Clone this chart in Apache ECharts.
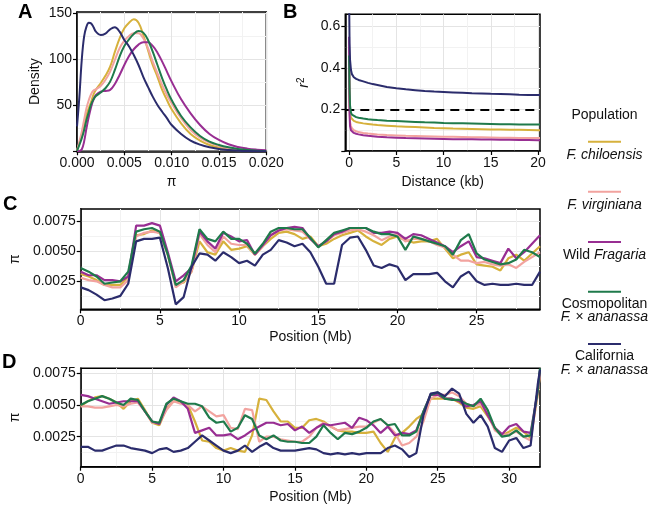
<!DOCTYPE html>
<html><head><meta charset="utf-8">
<script src="https://cdn.jsdelivr.net/npm/echarts@6/dist/echarts.min.js"></script>
<style>html,body{margin:0;padding:0;background:#fff}#c{width:649px;height:506px}</style>
</head><body><div id="c"></div>
<script>
// ---------- data ----------
const populations = ['F. chiloensis','F. virginiana','Wild Fragaria','Cosmopolitan F. × ananassa','California F. × ananassa'];
const colors = ['#D6B13C','#F2A39F','#982E92','#1F7A4B','#2B2C6C'];

// Panel A: density of pi
const aX = [0,0.00025,0.0005,0.00075,0.001,0.00125,0.0015,0.00175,0.002,0.0025,0.003,0.0035,0.004,0.0045,0.005,0.0055,0.006,0.0065,0.007,0.0075,0.008,0.0085,0.009,0.0095,0.01,0.011,0.012,0.013,0.014,0.015,0.016,0.017,0.018,0.019,0.02];
const aChil = [1,8.7,17.8,28.6,39.5,47,54,62,67,74,82,92,108,122.8,133.7,139.8,143.5,139.8,126.4,110,93.8,81,66.7,55.8,45.6,30.4,18.8,11.6,6.9,4,2.2,1.1,0.5,0.2,0.1];
const aVirg = [0.5,10.5,21,34,46.7,55.8,62.3,66,67.4,71,77.5,86.6,99.3,112,120.3,125.4,128.3,128.3,122.8,112,97.5,84.8,72,61.2,52.2,35.9,23.2,14.9,9.4,5.8,3.3,1.8,0.9,0.4,0.2];
const aWild = [0,0.5,2,10.5,25,37.7,48.5,56.5,61.2,64.9,65.6,66.7,73.2,83,93.8,103.6,110.9,116,118.5,118.5,114.5,107.2,97.5,86.6,75.7,56.5,41.3,28.6,18.8,12.3,7.6,4.7,2.9,1.8,1.1];
const aCosm = [0.5,7,14,23,34,43,51.4,56.5,60,63.8,68.5,75.7,88.4,103,114.5,121.7,127.5,130.8,129,121,108.3,93.8,79.3,66.7,55.8,38.4,26,16.7,10.5,6.9,4.3,2.5,1.3,0.6,0.3];
const aCali = [27,59,99,124.6,135.5,139.8,139,134.8,130,126.4,128,132.6,134.8,130,121,114,104.7,93.8,81,70,59.4,50.4,43,36,28.6,18.8,11.6,7.2,4.3,2.5,1.4,0.7,0.3,0.1,0.05];

// Panel B: LD decay (r^2 vs distance kb)
const bX = [0,0.05,0.1,0.2,0.3,0.5,0.75,1,1.5,2,2.5,3,4,5,6,7,8,9,10,11,12,13,14,15,16,17,18,19,20,20.2];
const bChil = [0.4,0.24,0.18,0.16,0.152,0.145,0.14,0.137,0.133,0.13,0.127,0.125,0.122,0.119,0.117,0.115,0.113,0.111,0.11,0.108,0.107,0.106,0.105,0.104,0.103,0.102,0.102,0.101,0.1,0.1];
const bVirg = [0.5,0.2,0.14,0.12,0.11,0.1,0.095,0.091,0.087,0.084,0.082,0.08,0.077,0.075,0.073,0.072,0.071,0.07,0.069,0.068,0.067,0.066,0.066,0.065,0.064,0.064,0.063,0.063,0.062,0.062];
const bWild = [0.55,0.18,0.12,0.1,0.093,0.087,0.083,0.08,0.076,0.073,0.071,0.069,0.066,0.064,0.062,0.061,0.06,0.059,0.058,0.057,0.056,0.056,0.055,0.055,0.054,0.054,0.053,0.053,0.052,0.052];
const bCosm = [0.46,0.3,0.22,0.185,0.175,0.168,0.163,0.16,0.156,0.153,0.151,0.149,0.146,0.144,0.142,0.14,0.138,0.137,0.135,0.134,0.133,0.132,0.131,0.13,0.129,0.129,0.128,0.127,0.127,0.127];
const bCali = [0.75,0.52,0.44,0.39,0.37,0.355,0.347,0.342,0.335,0.328,0.322,0.318,0.308,0.302,0.297,0.293,0.289,0.286,0.284,0.282,0.28,0.278,0.277,0.275,0.274,0.273,0.271,0.27,0.269,0.269];
const ldThreshold = 0.2;

// Panel C: pi along chromosome (Mb), step 0.5
const cX = Array.from({length:59},(_,i)=>i*0.5);
const cChil = [0.0031,0.0029,0.0026,0.0022,0.0022,0.0022,0.0029,0.0063,0.0064,0.0067,0.0065,0.0047,0.0022,0.0024,0.0033,0.0058,0.0049,0.0047,0.0058,0.0051,0.0052,0.0054,0.0047,0.0054,0.006,0.0065,0.0066,0.0064,0.006,0.0062,0.0054,0.0056,0.006,0.0063,0.0065,0.0067,0.0062,0.0058,0.0055,0.006,0.0062,0.0059,0.0057,0.0058,0.0058,0.006,0.0052,0.0044,0.0047,0.0049,0.0039,0.0038,0.0037,0.0034,0.0044,0.0047,0.0042,0.0048,0.0054];
const cVirg = [0.0028,0.0026,0.0025,0.0022,0.002,0.002,0.0026,0.0062,0.0065,0.0066,0.0065,0.0047,0.002,0.0025,0.0033,0.0064,0.0055,0.0049,0.0062,0.0056,0.0055,0.0055,0.0047,0.0054,0.0063,0.0067,0.0068,0.0067,0.0066,0.006,0.0054,0.0058,0.0063,0.0065,0.0067,0.0068,0.0066,0.0063,0.0059,0.0062,0.0064,0.0058,0.006,0.006,0.0058,0.0055,0.0053,0.0047,0.0042,0.0042,0.004,0.0041,0.0039,0.0038,0.0039,0.0036,0.0041,0.0045,0.0049];
const cWild = [0.0033,0.003,0.003,0.0026,0.0026,0.0025,0.0029,0.0071,0.0071,0.0073,0.0071,0.0049,0.0025,0.003,0.0036,0.0066,0.0058,0.0052,0.0065,0.0062,0.0058,0.0059,0.0047,0.0055,0.0063,0.0067,0.0069,0.007,0.0069,0.006,0.0054,0.0058,0.0064,0.0066,0.0069,0.0069,0.0069,0.0065,0.0065,0.0066,0.0065,0.006,0.0064,0.0063,0.006,0.0057,0.0054,0.0049,0.0054,0.0058,0.0045,0.0044,0.0042,0.004,0.0052,0.0044,0.0049,0.0056,0.0063];
const cCosm = [0.0036,0.0033,0.0029,0.0023,0.0024,0.0025,0.0033,0.0066,0.0068,0.0069,0.0066,0.0047,0.0022,0.0026,0.0038,0.0068,0.006,0.0058,0.0066,0.006,0.006,0.0056,0.0048,0.0056,0.0066,0.0069,0.0069,0.0068,0.0068,0.0061,0.0053,0.0059,0.0065,0.0067,0.0069,0.0069,0.0069,0.0066,0.0064,0.0064,0.0062,0.0051,0.0062,0.006,0.0058,0.0056,0.0054,0.0047,0.0059,0.0064,0.0048,0.0043,0.0041,0.0039,0.004,0.0043,0.0051,0.0049,0.0045];
const cCali = [0.002,0.00177,0.0014,0.00094,0.00108,0.0013,0.0023,0.0058,0.006,0.006,0.0061,0.0036,0.0006,0.0012,0.0037,0.0048,0.0047,0.0042,0.0049,0.0045,0.004,0.0042,0.0038,0.0047,0.0051,0.0059,0.0057,0.0054,0.0056,0.0049,0.0037,0.0023,0.0023,0.0055,0.0061,0.0062,0.0051,0.0038,0.0036,0.0039,0.0037,0.0026,0.0031,0.0031,0.0031,0.0032,0.0025,0.002,0.0029,0.0033,0.0025,0.0022,0.0023,0.0022,0.0022,0.0023,0.0022,0.0022,0.0033];

// Panel D: pi along chromosome (Mb), step 0.5 + chromosome end
const dX = Array.from({length:65},(_,i)=>i*0.5).concat([32.16]);
const dChil = [0.0049,0.0053,0.0056,0.0057,0.0055,0.0052,0.0047,0.0053,0.0055,0.0046,0.0036,0.0034,0.0047,0.0053,0.0052,0.005,0.0037,0.0022,0.0021,0.0016,0.0014,0.0016,0.0014,0.0013,0.0026,0.0055,0.0054,0.0045,0.0037,0.0037,0.0032,0.0032,0.0038,0.0039,0.0037,0.0033,0.003,0.0029,0.0029,0.0028,0.0028,0.0029,0.002,0.0013,0.0024,0.0028,0.0033,0.0039,0.0043,0.0055,0.0055,0.0055,0.0055,0.0052,0.0048,0.0047,0.0049,0.0041,0.0032,0.0026,0.0029,0.0032,0.0029,0.0024,0.0058,0.0075];
const dVirg = [0.0049,0.0049,0.0048,0.0048,0.0049,0.005,0.0049,0.0051,0.0052,0.0045,0.0036,0.0036,0.0046,0.0053,0.0051,0.005,0.0045,0.0049,0.0045,0.0041,0.0042,0.0032,0.0031,0.0047,0.0046,0.0021,0.0025,0.0025,0.0023,0.0022,0.0021,0.0021,0.0025,0.0032,0.0036,0.0033,0.003,0.0031,0.0032,0.0033,0.0033,0.0036,0.0039,0.0034,0.0028,0.0018,0.002,0.0025,0.0037,0.0055,0.0058,0.0058,0.006,0.0057,0.0051,0.0049,0.0051,0.0043,0.003,0.0026,0.0027,0.0029,0.0025,0.0022,0.0059,0.0075];
const dWild = [0.0058,0.0057,0.0055,0.0053,0.0051,0.0052,0.0053,0.0053,0.0053,0.0045,0.0037,0.0035,0.005,0.0056,0.0053,0.0047,0.0028,0.003,0.0032,0.0026,0.0026,0.0027,0.0023,0.0026,0.003,0.0033,0.0036,0.0036,0.0034,0.0035,0.003,0.0033,0.0028,0.0032,0.0035,0.0034,0.0035,0.0036,0.0032,0.004,0.0038,0.0034,0.0028,0.0033,0.0026,0.0028,0.0027,0.003,0.0045,0.0058,0.0058,0.0055,0.0055,0.0053,0.0049,0.005,0.0053,0.0042,0.0032,0.0027,0.0033,0.0035,0.0029,0.0028,0.0061,0.0077];
const dCosm = [0.005,0.0053,0.0055,0.0057,0.0055,0.0052,0.005,0.0055,0.0054,0.0045,0.0037,0.0036,0.0051,0.0055,0.0053,0.0051,0.0051,0.0049,0.004,0.0036,0.0037,0.0029,0.0032,0.0042,0.0039,0.0026,0.0023,0.0026,0.0022,0.0021,0.0021,0.002,0.002,0.0025,0.0034,0.0028,0.0023,0.0028,0.0027,0.0029,0.0032,0.0037,0.0039,0.0034,0.0035,0.0026,0.0026,0.0029,0.0045,0.0058,0.006,0.0055,0.0054,0.0054,0.0051,0.0049,0.0055,0.0046,0.0032,0.0025,0.0026,0.003,0.0025,0.0026,0.0061,0.0079];
const dCali = [0.0017,0.0017,0.0014,0.0014,0.0016,0.0018,0.0018,0.0016,0.0015,0.0014,0.0012,0.0015,0.0016,0.0013,0.0014,0.0016,0.0021,0.0026,0.0022,0.0018,0.0014,0.0012,0.0014,0.0018,0.0013,0.0017,0.002,0.0016,0.0014,0.0014,0.0014,0.0015,0.0016,0.0015,0.0012,0.0011,0.0012,0.0011,0.0012,0.0011,0.0012,0.0012,0.0012,0.0016,0.0018,0.0015,0.0009,0.0012,0.0042,0.0059,0.006,0.0057,0.0063,0.0059,0.0043,0.0036,0.0042,0.0033,0.0016,0.0013,0.0022,0.0024,0.0016,0.0018,0.0066,0.0078];

// tick labels / gridlines
const aXTicks = [0,0.005,0.01,0.015,0.02], aXMinor = [0.0025,0.0075,0.0125,0.0175];
const aYTicks = [50,100,150], aYMinor = [25,75,125];
const bXTicks = [0,5,10,15,20], bXMinor = [2.5,7.5,12.5,17.5];
const bYTicks = [0.2,0.4,0.6], bYMinor = [0.1,0.3,0.5];
const cXTicks = [0,5,10,15,20,25], cXMinor = [2.5,7.5,12.5,17.5,22.5,27.5];
const dXTicks = [0,5,10,15,20,25,30], dXMinor = [2.5,7.5,12.5,17.5,22.5,27.5];
const piTicks = [0.0025,0.005,0.0075], piMinor = [0.00125,0.00375,0.00625];

// ---------- layout ----------
const FONT = 'Liberation Sans, Arial, Helvetica, sans-serif';
const TXT = '#111';
const panels = [
  {grid:{left:77,top:12,width:189.3,height:139.3}, x:[0,0.02], y:[0,151.4], xt:aXTicks, xm:aXMinor, yt:aYTicks, ym:aYMinor,
   xf:v=>v.toFixed(3), yf:v=>String(v), xname:'π', yname:'Density', xgap:24, ygap:35},
  {grid:{left:345.3,top:14.3,width:194.7,height:136.7}, x:[-0.4,20.2], y:[0,0.658], xt:bXTicks, xm:bXMinor, yt:bYTicks, ym:bYMinor,
   xf:v=>String(v), yf:v=>v.toFixed(1), xname:'Distance (kb)', yname:'{i|r}{s|2}', xgap:24, ygap:33},
  {grid:{left:72.5,top:209,width:467.5,height:100.3}, x:[0,29], y:[0.00019,0.00847], xt:cXTicks, xm:cXMinor, yt:piTicks, ym:piMinor,
   xf:v=>String(v), yf:v=>v.toFixed(4), xname:'Position (Mb)', yname:'π', xgap:21, ygap:51},
  {grid:{left:72.2,top:368.3,width:467.8,height:98.4}, x:[0,32.16], y:[0.00013,0.0079], xt:dXTicks, xm:dXMinor, yt:piTicks, ym:piMinor,
   xf:v=>String(v), yf:v=>v.toFixed(4), xname:'Position (Mb)', yname:'π', xgap:23, ygap:51}
];
const seriesData = [
  {x:aX, ys:[aChil,aVirg,aWild,aCosm,aCali], w:2, smooth:0.4},
  {x:bX, ys:[bChil,bVirg,bWild,bCosm,bCali], w:2, smooth:false},
  {x:cX, ys:[cChil,cVirg,cWild,cCosm,cCali], w:2.2, smooth:false},
  {x:dX, ys:[dChil,dVirg,dWild,dCosm,dCali], w:2.2, smooth:false}
];

const grids=[], xAxes=[], yAxes=[], series=[];
panels.forEach((p,g)=>{
  grids.push(Object.assign({show:true, borderColor:'#000', borderWidth:1.5, backgroundColor:'#fff', containLabel:false}, p.grid));
  const labelStyle = {fontSize:14, color:TXT, fontFamily:FONT, margin:5};
  const nameStyle = {fontSize:14, color:TXT, fontFamily:FONT,
    rich:{i:{fontStyle:'italic',fontSize:14,fontFamily:FONT,color:TXT}, s:{fontSize:10,fontFamily:FONT,color:TXT,verticalAlign:'top',padding:[0,0,6,0]}}};
  xAxes.push({type:'value', gridIndex:g, min:p.x[0], max:p.x[1], position:'bottom',
    name:p.xname, nameLocation:'middle', nameGap:p.xgap, nameTextStyle:nameStyle,
    axisLine:{show:true, onZero:false, lineStyle:{color:'#000', width:1.5}},
    axisTick:{show:true, length:4, customValues:p.xt, lineStyle:{color:'#000', width:1.2}},
    axisLabel:Object.assign({customValues:p.xt, formatter:p.xf}, labelStyle),
    splitLine:{show:true, lineStyle:{color:'#e4e4e4', width:1}}});
  xAxes.push({type:'value', gridIndex:g, min:p.x[0], max:p.x[1], position:'bottom',
    axisLine:{show:false}, axisTick:{show:false, customValues:p.xm}, axisLabel:{show:false, customValues:p.xm},
    splitLine:{show:true, lineStyle:{color:'#f2f2f2', width:1}}});
  const yTickVals = (g<2) ? [p.y[0]].concat(p.yt) : p.yt;
  yAxes.push({type:'value', gridIndex:g, min:p.y[0], max:p.y[1], position:'left',
    name:p.yname, nameLocation:'middle', nameGap:p.ygap, nameRotate:90, nameTextStyle:nameStyle,
    axisLine:{show:true, onZero:false, lineStyle:{color:'#000', width:1.5}},
    axisTick:{show:true, length:4, customValues:yTickVals, lineStyle:{color:'#000', width:1.2}},
    axisLabel:Object.assign({customValues:p.yt, formatter:p.yf}, labelStyle),
    splitLine:{show:true, lineStyle:{color:'#e4e4e4', width:1}}});
  yAxes.push({type:'value', gridIndex:g, min:p.y[0], max:p.y[1], position:'left',
    axisLine:{show:false}, axisTick:{show:false, customValues:p.ym}, axisLabel:{show:false, customValues:p.ym},
    splitLine:{show:true, lineStyle:{color:'#f2f2f2', width:1}}});
  const sd = seriesData[g];
  sd.ys.forEach((ys,ci)=>{
    const s = {type:'line', name:populations[ci], xAxisIndex:g*2, yAxisIndex:g*2,
      data: sd.x.map((x,i)=>[x, ys[i]]), showSymbol:false, symbol:'none', smooth:sd.smooth,
      lineStyle:{color:colors[ci], width:sd.w}, itemStyle:{color:colors[ci]}, z:3+ci, silent:true, clip:true};
    if (g===1 && ci===4) {
      s.markLine = {silent:true, symbol:['none','none'], label:{show:false},
        lineStyle:{color:'#000', type:[9,6], width:2}, data:[{yAxis:ldThreshold}]};
    }
    series.push(s);
  });
});

// ---------- legend & panel letters (text graphics) ----------
const legendRich = {n:{fontSize:14,fontFamily:FONT,color:TXT,lineHeight:13.5}, i:{fontSize:14,fontFamily:FONT,color:TXT,fontStyle:'italic',lineHeight:13.5}};
const legendLabels = ['{i|F. chiloensis}','{i|F. virginiana}','{n|Wild }{i|Fragaria}','{n|Cosmopolitan}\n{i|F. × ananassa}','{n|California}\n{i|F. × ananassa}'];
const legendY = [141.7,191.7,242,291.7,344];
const LX = 604.5;
const graphics = [
  {type:'text', x:LX, y:115.5, style:{text:'Population', fontSize:14, fontFamily:FONT, fill:TXT, align:'center', verticalAlign:'middle'}},
];
legendLabels.forEach((t,i)=>{
  graphics.push({type:'line', shape:{x1:LX-16.5,y1:legendY[i],x2:LX+16.5,y2:legendY[i]}, style:{stroke:colors[i], lineWidth:2}});
  const two = t.indexOf('\n')>=0;
  graphics.push({type:'text', x:LX, y:legendY[i]+(two?19:13.5), style:{text:t, rich:legendRich, align:'center', verticalAlign:'middle', fontSize:14, fontFamily:FONT, fill:TXT}});
});
[['A',18,2],['B',283,2],['C',3,194],['D',2,352]].forEach(([t,x,y])=>{
  graphics.push({type:'text', x:x, y:y, style:{text:t, fontSize:20, fontWeight:'bold', fontFamily:FONT, fill:'#000'}});
});

const chart = echarts.init(document.getElementById('c'), null, {renderer:'canvas'});
chart.setOption({animation:false, backgroundColor:'#fff', textStyle:{fontFamily:FONT},
  grid:grids, xAxis:xAxes, yAxis:yAxes, series:series, graphic:graphics});
</script></body></html>
